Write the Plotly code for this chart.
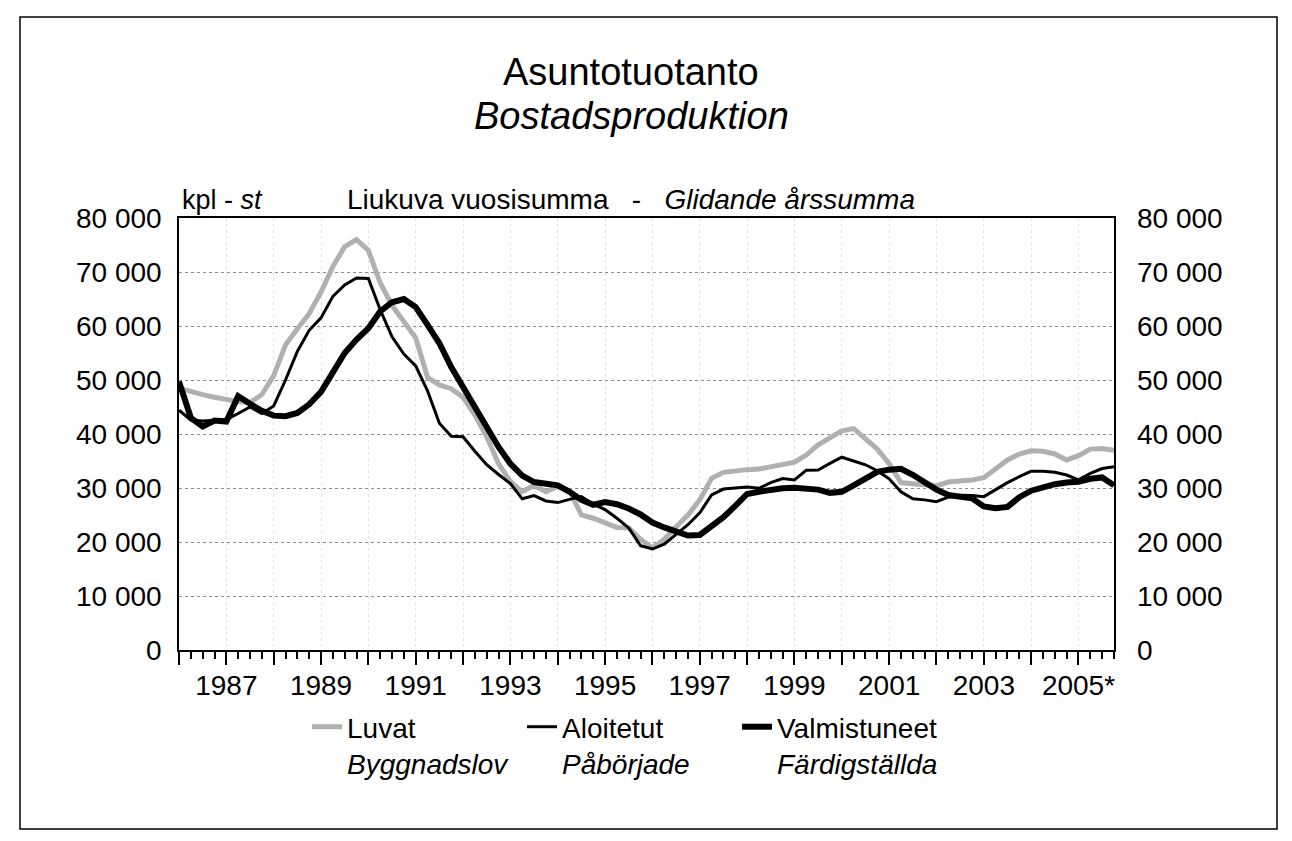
import plotly.graph_objects as go

# ---------------- data (rolling annual sums, quarterly) ----------------
quarters = [1986 + i / 4 for i in range(80)]  # 1986Q1 ... 2005Q4 positions

luvat = [48500, 47800, 47300, 46800, 46300, 46000, 45800, 47300, 50800, 56500,
         59500, 62300, 66300, 71000, 74700, 76000, 74000, 68000, 63800, 60800,
         57800, 50500, 49100, 48400, 46800, 43500, 39500, 34500, 31200, 29300,
         30500, 29300, 30300, 29500, 25000, 24400, 23600, 22700, 22600, 20500,
         18900, 20500, 22800, 25000, 27800, 31800, 32900, 33200, 33400, 33500,
         33900, 34400, 34800, 36100, 38000, 39300, 40600, 41000, 39000, 37200,
         34500, 31000, 30800, 30600, 30400, 31100, 31200, 31500, 31900, 33700,
         35200, 36300, 36900, 36800, 36300, 35200, 36000, 37200, 37300, 37000]

aloitetut = [44400, 42600, 42400, 42600, 42700, 43800, 45000, 43800, 45200, 50000,
             55300, 59200, 61500, 65500, 67600, 68900, 68800, 63000, 58000, 54800,
             52600, 48000, 42000, 39600, 39500, 36800, 34300, 32500, 30800, 28000,
             28600, 27600, 27300, 27900, 28400, 27000, 26000, 24400, 22600, 19300,
             18700, 19600, 21400, 23200, 25400, 28700, 29800, 30000, 30200, 29950,
             31000, 31750, 31500, 33300, 33340, 34570, 35700, 35000, 34300, 33200,
             31700, 29300, 28000, 27800, 27450, 28300, 28650, 28600, 28400, 29700,
             31000, 32100, 33100, 33100, 32900, 32400, 31500, 32700, 33600, 33950]

valmistuneet = [49700, 43000, 41400, 42500, 42300, 47000, 45600, 44300, 43400, 43300,
                43900, 45500, 47800, 51500, 55000, 57500, 59600, 62700, 64400, 65000,
                63500, 60200, 56800, 52400, 48600, 44800, 40900, 37600, 34500, 32300,
                31100, 30800, 30500, 29300, 27800, 26900, 27400, 27000, 26200, 25100,
                23600, 22700, 21800, 21200, 21300, 22800, 24600, 26700, 28900, 29300,
                29700, 29950, 30050, 29900, 29700, 29100, 29300, 30500, 31900, 33000,
                33400, 33550, 32450, 31100, 29700, 28700, 28500, 28100, 26600, 26240,
                26500, 28300, 29500, 30200, 30700, 31000, 31150, 31700, 31950, 30500]

y_tick_vals = [0, 10000, 20000, 30000, 40000, 50000, 60000, 70000, 80000]
y_tick_text = ["0", "10 000", "20 000", "30 000", "40 000", "50 000",
               "60 000", "70 000", "80 000"]

year_tick_vals = list(range(1986, 2006))
year_tick_text = ["", "1987", "", "1989", "", "1991", "", "1993", "", "1995",
                  "", "1997", "", "1999", "", "2001", "", "2003", "", "2005*"]

series_names = ["Luvat<br><i>Byggnadslov</i>",
                "Aloitetut<br><i>Påbörjade</i>",
                "Valmistuneet<br><i>Färdigställda</i>"]

# ---------------- layout geometry ----------------
# the page body has an 8px margin, so the figure is drawn at (8, 8)
OFF = 8
W, H = 1292 - 2 * OFF, 841 - 2 * OFF
PLOT_L, PLOT_R, PLOT_T, PLOT_B = 179.3, 1114.3, 218, 650   # target page pixels
L = round(PLOT_L - OFF)
R = round(W - (PLOT_R - OFF))
T = round(PLOT_T - OFF)
B = round(H - (PLOT_B - OFF))
PW, PH = W - L - R, H - T - B


def px(x):
    return (x - OFF - L) / PW


def py(y):
    return (H - B - (y - OFF)) / PH


FONT = "Liberation Sans, Arial, sans-serif"

fig = go.Figure()
fig.add_trace(go.Scatter(x=quarters, y=luvat, name=series_names[0], mode="lines",
                         line=dict(color="#b0b0b0", width=5)))
fig.add_trace(go.Scatter(x=quarters, y=aloitetut, name=series_names[1], mode="lines",
                         line=dict(color="#000000", width=3)))
fig.add_trace(go.Scatter(x=quarters, y=valmistuneet, name=series_names[2], mode="lines",
                         line=dict(color="#000000", width=6)))
# invisible trace to activate the right-hand axis
fig.add_trace(go.Scatter(x=quarters, y=valmistuneet, yaxis="y2", mode="lines",
                         line=dict(color="rgba(0,0,0,0)", width=0),
                         showlegend=False, hoverinfo="skip"))

fig.update_layout(
    width=W, height=H,
    margin=dict(l=L, r=R, t=T, b=B),
    paper_bgcolor="white", plot_bgcolor="white",
    font=dict(family=FONT, size=28, color="black"),
    showlegend=True,
    legend=dict(orientation="h", x=px(307), xanchor="left", y=py(702), yanchor="top",
                font=dict(size=28), valign="top", entrywidth=170,
                bgcolor="rgba(0,0,0,0)", itemwidth=30, tracegroupgap=0),
    xaxis=dict(range=[1986, 2005.75], tickmode="array", tickvals=year_tick_vals,
               ticktext=year_tick_text, ticks="outside", ticklen=13, tickwidth=1.5,
               tickcolor="black", showline=True, linecolor="black", linewidth=1.5,
               mirror=True, showgrid=True, gridcolor="#e2e2e2", griddash="dot",
               gridwidth=1, zeroline=False, tickangle=0, ticklabelstandoff=-3,
               tickfont=dict(size=28),
               minor=dict(dtick=0.25, tick0=1986, ticks="outside", ticklen=7,
                          tickwidth=1.5, tickcolor="black", showgrid=False)),
    yaxis=dict(range=[0, 80000], tickmode="array", tickvals=y_tick_vals,
               ticktext=y_tick_text, showline=True, linecolor="black", linewidth=1.5,
               mirror=True, showgrid=True, gridcolor="#8c8c8c", griddash="dot",
               gridwidth=1, zeroline=False, ticks="", ticklabelstandoff=10,
               tickfont=dict(size=28)),
    yaxis2=dict(range=[0, 80000], overlaying="y", side="right", tickmode="array",
                tickvals=y_tick_vals, ticktext=y_tick_text, showgrid=False,
                zeroline=False, showline=False, ticks="", ticklabelstandoff=22,
                tickfont=dict(size=28)),
    shapes=[dict(type="rect", xref="paper", yref="paper",
                 x0=px(20), x1=px(1277), y0=py(829), y1=py(17),
                 line=dict(color="black", width=1.5), layer="below")],
    annotations=[
        dict(text="Asuntotuotanto", xref="paper", yref="paper", x=px(631), y=py(72),
             xanchor="center", yanchor="middle", showarrow=False,
             font=dict(size=38)),
        dict(text="<i>Bostadsproduktion</i>", xref="paper", yref="paper", x=px(631),
             y=py(116), xanchor="center", yanchor="middle", showarrow=False,
             font=dict(size=38)),
        dict(text="kpl - <i>st</i>", xref="paper", yref="paper", x=px(180), y=py(200),
             xanchor="left", yanchor="middle", showarrow=False, font=dict(size=27)),
        dict(text="Liukuva vuosisumma\u00a0\u00a0 -\u00a0\u00a0 <i>Glidande årssumma</i>",
             xref="paper", yref="paper", x=px(345), y=py(199), xanchor="left",
             yanchor="middle", showarrow=False, font=dict(size=28)),
    ],
)

fig.write_html("out.html")
